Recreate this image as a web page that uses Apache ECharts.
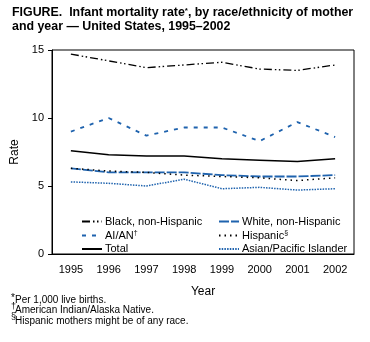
<!DOCTYPE html>
<html><head><meta charset="utf-8">
<script src="https://cdn.jsdelivr.net/npm/echarts@6/dist/echarts.min.js"></script>
<style>html,body{margin:0;padding:0;background:#fff}#c{width:370px;height:342px}</style>
</head><body><div id="c"></div>
<script>
var years = ['1995','1996','1997','1998','1999','2000','2001','2002'];
var black = [14.7, 14.2, 13.7, 13.9, 14.1, 13.6, 13.5, 13.9];
var aian = [9.0, 10.0, 8.7, 9.3, 9.3, 8.3, 9.7, 8.6];
var total = [7.6, 7.3, 7.2, 7.2, 7.0, 6.9, 6.8, 7.0];
var white = [6.3, 6.0, 6.0, 6.0, 5.8, 5.7, 5.7, 5.8];
var hispanic = [6.3, 6.1, 6.0, 5.8, 5.7, 5.6, 5.4, 5.6];
var asian = [5.3, 5.2, 5.0, 5.5, 4.8, 4.9, 4.7, 4.8];
var yTicks = [0, 5, 10, 15];

var FONT = 'Liberation Sans, Arial, Helvetica, sans-serif';
var BLUE = '#1f63ae';
var chart = echarts.init(document.getElementById('c'));
function ser(name, data, color, type, width) {
  return {name: name, type: 'line', data: data, symbol: 'none', smooth: false,
    lineStyle: {color: color, type: type, width: width}, itemStyle: {color: color}};
}
function fmt(name) {
  var last = name.slice(-1);
  if (last === '†' || last === '§') return '{n|' + name.slice(0, -1) + '}{s|' + last + '}';
  return '{n|' + name + '}';
}
var legendCommon = {orient: 'vertical', top: 211, itemWidth: 20, itemHeight: 10, itemGap: 2.5,
  itemStyle: {opacity: 0}, formatter: fmt,
  textStyle: {color: '#000', fontSize: 11, fontFamily: FONT, padding: [0,0,0,-2],
    rich: {n: {fontSize: 11, fontFamily: FONT, color: '#000'},
           s: {fontSize: 7, fontFamily: FONT, color: '#000', verticalAlign: 'top', padding: [0,0,5,0]}}}};
chart.setOption({
  animation: false,
  textStyle: {fontFamily: FONT},
  grid: {left: 52, right: 16, top: 50, bottom: 88, show: true, borderColor: '#000', borderWidth: 1},
  xAxis: {type: 'category', data: years, boundaryGap: true,
    axisLine: {lineStyle: {color: '#000'}},
    axisTick: {alignWithLabel: true, length: 5, lineStyle: {color: '#000'}},
    axisLabel: {color: '#000', fontSize: 11, margin: 10, fontFamily: FONT},
    name: 'Year', nameLocation: 'middle', nameGap: 32,
    nameTextStyle: {color: '#000', fontSize: 12, fontFamily: FONT}},
  yAxis: {type: 'value', min: yTicks[0], max: yTicks[yTicks.length-1], interval: 5,
    splitLine: {show: false},
    axisLine: {show: true, lineStyle: {color: '#000'}},
    axisTick: {show: true, length: 4, lineStyle: {color: '#000'}},
    axisLabel: {color: '#000', fontSize: 11, margin: 8, fontFamily: FONT},
    name: 'Rate', nameLocation: 'middle', nameGap: 27,
    nameTextStyle: {color: '#000', fontSize: 12, fontFamily: FONT}},
  legend: [
    Object.assign({data: ['Black, non-Hispanic', 'AI/AN†', 'Total'], left: 76}, legendCommon),
    Object.assign({data: ['White, non-Hispanic', 'Hispanic§', 'Asian/Pacific Islander'], left: 213}, legendCommon)
  ],
  series: [
    ser('Black, non-Hispanic', black, '#000', [8, 3, 1.5, 2.5, 1.5, 3], 1.3),
    ser('AI/AN†', aian, BLUE, [4, 6], 1.8),
    ser('Total', total, '#000', 'solid', 1.5),
    ser('White, non-Hispanic', white, BLUE, [10, 2], 1.8),
    ser('Hispanic§', hispanic, '#000', [1.5, 4], 1.5),
    ser('Asian/Pacific Islander', asian, BLUE, [1.5, 1.2], 1.5)
  ],
  graphic: [
    {type: 'text', left: 12, top: 7, style: {text: 'FIGURE.  Infant mortality rate{s|*}, by race/ethnicity of mother',
      font: 'bold 12.4px ' + FONT, fill: '#000', rich: {s: {fontSize: 8, fontWeight: 'bold', fontFamily: FONT, verticalAlign: 'top'}}}},
    {type: 'text', left: 12, top: 21, style: {text: 'and year — United States, 1995–2002', font: 'bold 12.4px ' + FONT, fill: '#000'}},
    {type: 'text', left: 11, top: 293, style: {text: '*', font: '10px ' + FONT, fill: '#000'}},
    {type: 'text', left: 15, top: 295, style: {text: 'Per 1,000 live births.', font: '10px ' + FONT, fill: '#000'}},
    {type: 'text', left: 11, top: 302, style: {text: '†', font: '9px ' + FONT, fill: '#000'}},
    {type: 'text', left: 15, top: 305.5, style: {text: 'American Indian/Alaska Native.', font: '10px ' + FONT, fill: '#000'}},
    {type: 'text', left: 11, top: 312.5, style: {text: '§', font: '9px ' + FONT, fill: '#000'}},
    {type: 'text', left: 15, top: 316, style: {text: 'Hispanic mothers might be of any race.', font: '10px ' + FONT, fill: '#000'}}
  ]
});
</script></body></html>
